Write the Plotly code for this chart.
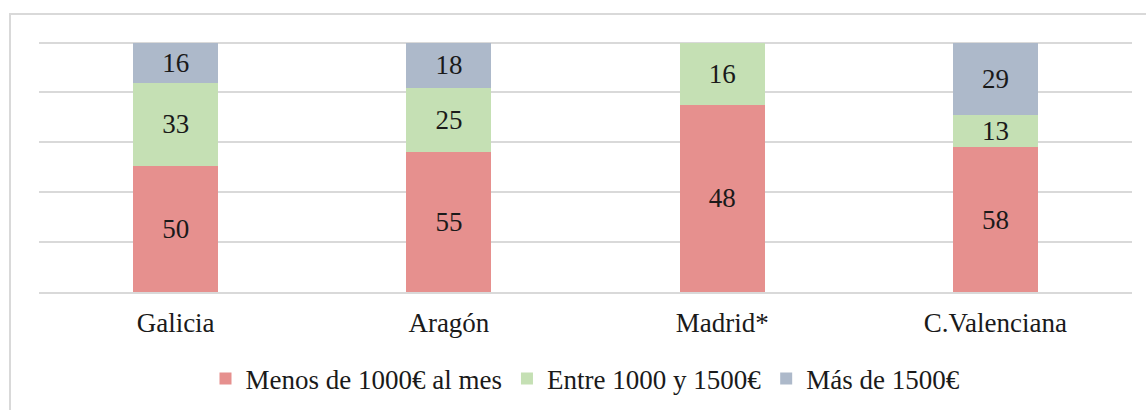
import plotly.graph_objects as go

categories = ["Galicia", "Aragón", "Madrid*", "C.Valenciana"]
series_names = ["Menos de 1000€ al mes", "Entre 1000 y 1500€", "Más de 1500€"]
menos_1000 = [50, 55, 48, 58]
entre_1000_1500 = [33, 25, 16, 13]
mas_1500 = [16, 18, None, 29]
colors = ["#E6908E", "#C5E0B4", "#ADB9CA"]

W, H = 1146, 410
L, R, T, B = 39, 14, 40, 118
FS = 27

fig = go.Figure()
for name, vals, col in zip(series_names, [menos_1000, entre_1000_1500, mas_1500], colors):
    fig.add_trace(go.Bar(
        x=categories, y=vals, name=name,
        marker=dict(color=col, line=dict(width=0)),
        text=[("" if v is None else str(v)) for v in vals],
        texttemplate="%{text}",
        textposition="inside", insidetextanchor="middle", textangle=0,
        constraintext="none",
        textfont=dict(family="Liberation Serif", size=FS, color="#1a1a1a"),
        hoverinfo="skip",
    ))

pw = W - L - R
ph = H - T - B
def px2x(px):
    return (px - L) / pw
def py2y(py):
    return (H - B - py) / ph

fig.add_shape(type="rect", xref="paper", yref="paper",
              x0=px2x(10), x1=px2x(W + 10), y0=py2y(H + 10), y1=py2y(14),
              line=dict(color="#D9D9D9", width=2), fillcolor="rgba(0,0,0,0)", layer="below")

fig.update_layout(
    width=W, height=H,
    margin=dict(l=L, r=R, t=T, b=B, pad=0, autoexpand=False),
    barmode="stack", barnorm="percent", bargap=0.689,
    uniformtext=dict(minsize=FS, mode="show"),
    paper_bgcolor="white", plot_bgcolor="white",
    font=dict(family="Liberation Serif", size=FS, color="#1a1a1a"),
    showlegend=True,
    legend=dict(orientation="h", x=0.5, xanchor="center", y=py2y(379), yanchor="middle",
                font=dict(family="Liberation Serif", size=FS, color="#1a1a1a"),
                itemwidth=30, traceorder="normal", itemclick=False, itemdoubleclick=False),
    xaxis=dict(showgrid=False, showline=True, linecolor="#D9D9D9", linewidth=1.5,
               ticks="", tickfont=dict(family="Liberation Serif", size=FS, color="#1a1a1a"),
               ticklabelstandoff=6, fixedrange=True),
    yaxis=dict(range=[0, 101], tickvals=[20, 40, 60, 80, 100], showgrid=True,
               gridcolor="#D9D9D9", gridwidth=1.5,
               showticklabels=False, zeroline=False, showline=False, fixedrange=True),
)

fig.write_html("out.html", config={"displayModeBar": False},
               post_script="document.body.style.margin='0';document.body.style.overflow='hidden';")
